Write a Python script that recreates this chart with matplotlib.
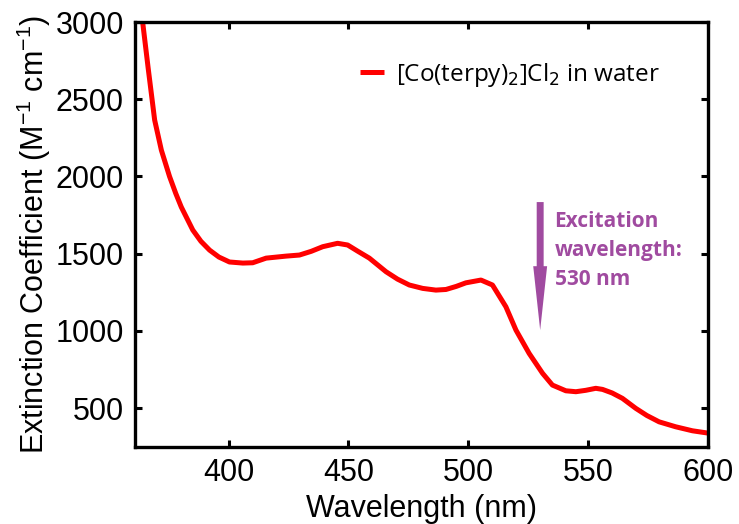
import matplotlib
matplotlib.use("Agg")
import matplotlib.pyplot as plt

wavelength = [363.8, 366.5, 369.2, 372.0, 375.4, 378.0, 380.3, 385.1, 388.5, 392.1, 396.0,
              400.4, 406.0, 410.1, 415.7, 424.0, 429.6, 434.5, 439.3, 445.5, 449.7,
              454.0, 458.75, 465.7, 470.5, 475.4, 481.0, 486.5, 490.7, 495.0, 499.0,
              505.3, 510.1, 515.7, 519.9, 525.4, 531.0, 535.1, 540.7, 544.9, 549.0,
              553.2, 556.0, 560.0, 564.3, 569.9, 574.5, 579.6, 586.5, 593.5, 600.0]
extinction = [3050, 2700, 2365, 2170, 2000, 1890, 1802, 1653, 1580, 1523, 1478,
              1446, 1439, 1441, 1471, 1484, 1491, 1515, 1545, 1567, 1556,
              1515, 1471, 1383, 1335, 1297, 1275, 1264, 1268, 1288, 1311,
              1329, 1297, 1156, 1005, 854, 725, 649, 612, 606, 615,
              628, 621, 598, 563, 498, 452, 411, 379, 353, 338]

xticks = [400, 450, 500, 550, 600]
yticks = [500, 1000, 1500, 2000, 2500, 3000]
series_label = "[Co(terpy)$_2$]Cl$_2$ in water"
excitation_nm = 530
arrow_top, arrow_tip = 1834, 1005

fig = plt.figure(figsize=(7.39, 5.24), dpi=100)
ax = fig.add_axes([135/739, 1-447/524, (708-135)/739, (447-22)/524])

ax.plot(wavelength, extinction, color="#ff0000", lw=3.6, solid_capstyle="butt",
        solid_joinstyle="round")
ax.set_xlim(361, 600)
ax.set_ylim(248, 3000)
ax.set_xticks(xticks)
ax.set_yticks(yticks)

for s in ax.spines.values():
    s.set_linewidth(2.4)
ax.tick_params(direction="in", length=5, width=2.2, top=True, right=True,
               labelsize=22, pad=8)
for lab in ax.get_xticklabels() + ax.get_yticklabels():
    lab.set_family("Liberation Sans")

ax.set_xlabel("Wavelength (nm)", fontsize=22, family="Liberation Sans", labelpad=4)
ax.set_ylabel(r"Extinction Coefficient (M$^{\mathregular{-1}}$ cm$^{\mathregular{-1}}$)",
              fontsize=22, family="Liberation Sans", labelpad=2)

leg = ax.legend([ax.lines[0]], [series_label], loc="upper right",
                bbox_to_anchor=(0.955, 0.96), frameon=False,
                prop={"family": "Open Sans", "size": 17.5}, handlelength=1.0,
                handletextpad=0.5)

purple = "#A04BA0"
ax.annotate("", xy=(excitation_nm, arrow_tip), xytext=(excitation_nm, arrow_top),
            arrowprops=dict(arrowstyle="simple,head_length=4.6,head_width=1.0,tail_width=0.5",
                            color=purple, lw=0, shrinkA=0, shrinkB=0))
ax.text(536, 1775, "Excitation\nwavelength:\n530 nm", color=purple,
        fontsize=15, fontweight="bold", family="Open Sans", va="top", ha="left",
        linespacing=1.5)

fig.savefig("out.png", dpi=100)
